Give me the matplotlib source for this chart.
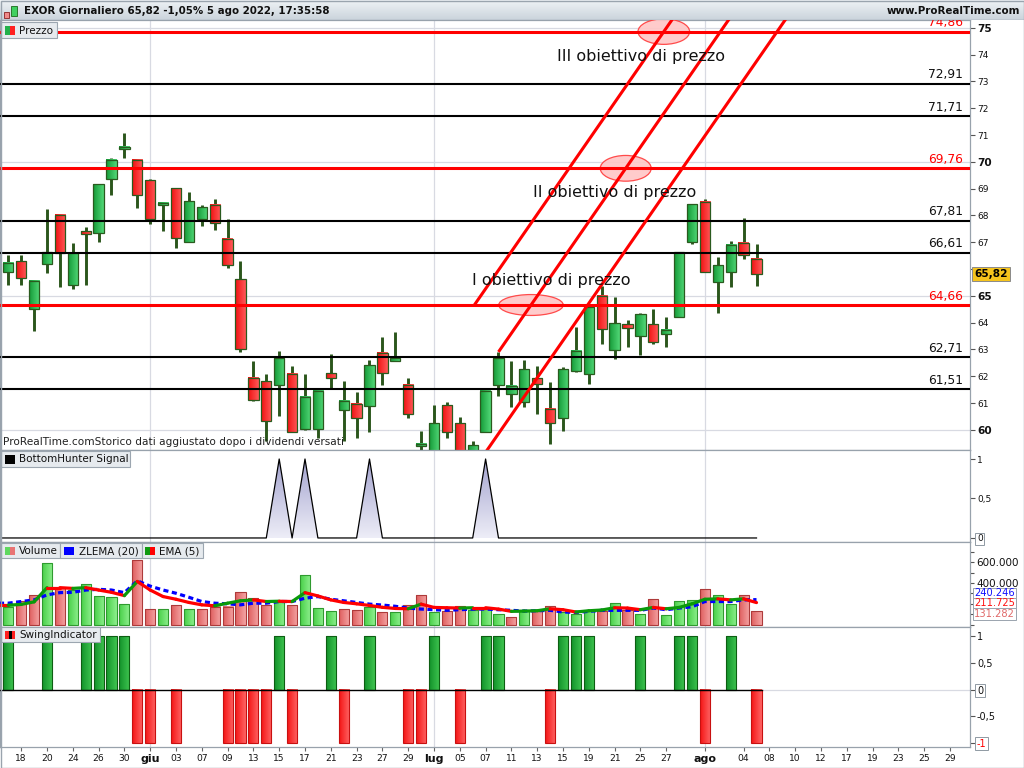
import numpy as np
import matplotlib
matplotlib.use("Agg")
import matplotlib.pyplot as plt
from matplotlib.patches import Rectangle, Ellipse, Polygon
from matplotlib.colors import LinearSegmentedColormap

plt.rcParams['font.family'] = ['DejaVu Sans']

# ---------------- data: EXOR daily, 17 May - 5 Aug 2022 ----------------
opens = [65.89, 66.30, 64.50, 66.19, 68.03, 65.40, 67.43, 67.36, 69.35, 70.48,
         70.08, 69.32, 68.38, 69.01, 67.02, 67.88, 68.41, 67.14, 65.64, 61.95,
         61.83, 61.68, 62.09, 60.03, 60.03, 62.11, 60.74, 60.97, 60.89, 62.88,
         62.59, 61.68, 59.40, 59.00, 60.93, 60.25, 59.05, 59.94, 61.68, 61.33,
         61.05, 61.92, 60.78, 60.44, 62.18, 62.07, 64.99, 62.97, 63.94, 63.50,
         63.94, 63.56, 64.22, 67.02, 68.52, 65.52, 65.89, 66.99, 66.38]
highs = [66.54, 66.54, 65.56, 68.23, 68.03, 66.98, 67.58, 69.17, 70.15, 71.09,
         70.11, 69.36, 68.46, 69.01, 68.87, 68.41, 68.61, 67.86, 66.32, 62.56,
         62.07, 62.93, 62.37, 62.07, 61.47, 62.82, 61.84, 61.40, 62.59, 63.47,
         63.64, 61.94, 59.96, 60.93, 61.05, 60.49, 59.59, 61.53, 62.91, 62.56,
         62.59, 62.37, 61.78, 62.34, 63.85, 64.65, 65.38, 64.95, 64.10, 64.35,
         64.51, 64.22, 66.63, 68.42, 68.61, 66.45, 67.03, 67.92, 66.92]
lows = [65.39, 65.41, 63.70, 65.84, 65.35, 65.27, 65.39, 67.00, 68.77, 70.16,
        68.28, 67.68, 67.42, 66.78, 67.02, 67.61, 67.45, 66.03, 62.91, 61.06,
        59.59, 60.50, 59.91, 59.99, 59.71, 61.55, 59.59, 59.71, 59.94, 61.67,
        62.59, 60.46, 58.90, 58.80, 59.71, 58.70, 58.80, 59.94, 61.25, 60.84,
        60.84, 60.59, 59.49, 59.96, 62.15, 61.72, 63.22, 62.66, 63.09, 62.81,
        63.22, 63.09, 64.22, 66.92, 65.89, 64.35, 65.35, 66.39, 65.38]
closes = [66.23, 65.67, 65.56, 66.63, 66.61, 66.61, 67.32, 69.17, 70.08, 70.55,
          68.75, 67.88, 68.46, 67.17, 68.53, 68.31, 67.73, 66.15, 63.03, 61.12,
          60.34, 62.70, 59.91, 61.24, 61.47, 61.94, 61.09, 60.44, 62.41, 62.13,
          62.66, 60.59, 59.47, 60.25, 59.94, 59.00, 59.42, 61.47, 62.70, 61.64,
          62.28, 61.72, 60.25, 62.26, 62.93, 64.60, 63.75, 63.97, 63.82, 64.32,
          63.28, 63.71, 66.63, 68.42, 65.89, 66.15, 66.91, 66.54, 65.82]

volumes_k = [174, 226, 283, 597, 350, 333, 390, 276, 264, 197,
             626, 152, 152, 187, 152, 152, 174, 174, 311, 254,
             190, 222, 190, 476, 159, 133, 152, 143, 165, 121,
             121, 187, 283, 124, 133, 178, 143, 149, 105, 73,
             127, 127, 178, 117, 105, 127, 127, 207, 143, 105,
             245, 95, 226, 235, 340, 283, 200, 283, 131.282]
ema5_k = [187, 194, 219, 356, 356, 349, 356, 333, 311, 279,
          416, 333, 270, 244, 213, 190, 181, 206, 229, 238,
          222, 225, 222, 308, 276, 238, 213, 200, 184, 166,
          155, 152, 197, 165, 162, 159, 162, 162, 149, 127,
          130, 133, 152, 143, 121, 133, 140, 162, 159, 143,
          165, 152, 165, 200, 244, 248, 238, 248, 211.725]
zlema20_k = [206, 222, 238, 286, 308, 311, 333, 340, 333, 308,
             422, 371, 333, 302, 263, 222, 206, 200, 190, 206,
             206, 222, 222, 254, 270, 244, 229, 213, 197, 188,
             176, 159, 149, 143, 137, 143, 149, 149, 143, 137,
             130, 133, 137, 121, 117, 127, 137, 137, 137, 137,
             159, 143, 159, 171, 222, 222, 222, 238, 240.246]

swing = [1, 0, 0, 1, 0, 0, 1, 1, 1, 1,
         -1, -1, 0, -1, 0, 0, 0, -1, -1, -1,
         -1, 1, -1, 0, 0, 1, -1, 0, 1, 0,
         0, -1, -1, 1, 0, -1, 0, 1, 1, 0,
         0, 0, -1, 1, 1, 1, 0, 0, 0, 1,
         0, 0, 1, 1, -1, 0, 1, 0, -1]
bottom_hunter = [0, 0, 0, 0, 0, 0, 0, 0, 0, 0,
                 0, 0, 0, 0, 0, 0, 0, 0, 0, 0,
                 0, 1, 0, 1, 0, 0, 0, 0, 1, 0,
                 0, 0, 0, 0, 0, 0, 0, 1, 0, 0,
                 0, 0, 0, 0, 0, 0, 0, 0, 0, 0,
                 0, 0, 0, 0, 0, 0, 0, 0, 0]

target_levels = [74.86, 69.76, 64.66]
support_levels = [72.91, 71.71, 67.81, 66.61, 62.71, 61.51]
target_names = ["I obiettivo di prezzo", "II obiettivo di prezzo", "III obiettivo di prezzo"]

# upward channel: base line from the 8 Jul high, parallel lines above and below
channel_bar = 38
channel_price = highs[38]
channel_slope = 0.6946
channel_width = 3.05

date_tick_pos = [1, 3, 5, 7, 9, 11, 13, 15, 17, 19, 21, 23, 25, 27, 29, 31, 33, 35,
                 37, 39, 41, 43, 45, 47, 49, 51, 54, 57, 59, 61, 63, 65, 67, 69, 71, 73]
date_tick_labels = ["18", "20", "24", "26", "30", "giu", "03", "07", "09", "13", "15",
                    "17", "21", "23", "27", "29", "lug", "05", "07", "11", "13", "15",
                    "19", "21", "25", "27", "ago", "04", "08", "10", "12", "17", "19",
                    "23", "25", "29"]
month_names = ["giu", "lug", "ago"]

last_price = closes[-1]

# ---------------- figure scaffolding ----------------
W, H = 1024, 768
fig = plt.figure(figsize=(W / 100, H / 100), dpi=100)
fig.patch.set_facecolor('white')

X_LO, X_HI = -0.643, 74.55
PANEL_R = 970
GRID = '#d8dae2'
SPINE = '#98a2ac'
month_pos = [p for p, l in zip(date_tick_pos, date_tick_labels) if l in month_names]

GRAD = np.linspace(0, 1, 32)[None, :]


def cmap(c0, c1):
    return LinearSegmentedColormap.from_list('', [c0, c1])


CM_UP = cmap('#149a38', '#52d877')
CM_DN = cmap('#f01010', '#ff5a5a')
CM_VUP = cmap('#48cf48', '#8ef08e')
CM_VDN = cmap('#df5e5e', '#f4a4a4')
CM_SUP = cmap('#12922a', '#3fc450')
CM_SDN = cmap('#f41414', '#ff6464')


def gradient_box(ax, x0, x1, y0, y1, cm, edge, lw, z):
    ax.imshow(GRAD, extent=(x0, x1, y0, y1), cmap=cm, aspect='auto',
              interpolation='bilinear', zorder=z)
    ax.add_patch(Rectangle((x0, y0), x1 - x0, y1 - y0, fill=False, ec=edge,
                           lw=lw, zorder=z + 0.01))


def panel(top, bottom, ylim):
    ax = fig.add_axes([0, 1 - bottom / H, PANEL_R / W, (bottom - top) / H])
    ax.set_xlim(X_LO, X_HI)
    ax.set_ylim(*ylim)
    ax.set_autoscale_on(False)
    for s in ax.spines.values():
        s.set_color(SPINE)
        s.set_linewidth(0.9)
    ax.yaxis.tick_right()
    ax.tick_params(axis='y', direction='out', length=3.5, width=0.8,
                   colors='#555555', labelcolor='#111111', pad=1.5, labelsize=6.5)
    ax.tick_params(axis='x', bottom=False, labelbottom=False)
    for m in month_pos:
        ax.axvline(m, color=GRID, lw=0.9, zorder=0.5)
    return ax


def px_rect(x0, y0, x1, y1, z=12, **kw):
    r = Rectangle((x0 / W, 1 - y1 / H), (x1 - x0) / W, (y1 - y0) / H,
                  transform=fig.transFigure, zorder=z, **kw)
    fig.add_artist(r)
    return r


def px_text(x, y, s, **kw):
    kw.setdefault('zorder', 13)
    return fig.text(x / W, 1 - y / H, s, **kw)


def legend(x0, x1, y0, y1, label, tx, icons):
    px_rect(x0, y0, x1, y1, fc='#e6eaee', ec='#9ca6b0', lw=0.8)
    for ix0, ix1, c in icons:
        px_rect(ix0, y0 + 4, ix1, y1 - 3.5, z=12.5, fc=c, ec='none')
    px_text(tx, (y0 + y1) / 2 + 0.5, label, va='center', ha='left',
            fontsize=7.5, color='#111111')


idx = np.arange(len(closes))

# ---------------- price panel ----------------
ax_p = panel(20, 450, (59.25, 75.294))
price_ticks = list(range(60, 76))
ax_p.set_yticks(price_ticks)
# the 66 label sits under the last-price tag
ax_p.set_yticklabels(['' if v == 66 else str(v) for v in price_ticks])
for t, v in zip(ax_p.get_yticklabels(), price_ticks):
    if v % 5 == 0:
        t.set_fontweight('bold')
        t.set_fontsize(7.6)
for v in (60, 65, 70, 75):
    ax_p.axhline(v, color=GRID, lw=0.9, zorder=0.6)

WICK = '#2b561c'
for i, (o, h, l, c) in enumerate(zip(opens, highs, lows, closes)):
    ax_p.vlines(i, l, h, color=WICK, lw=2.1, zorder=3)
    lo, hi = min(o, c), max(o, c)
    if hi - lo < 0.08:
        mid = (lo + hi) / 2
        lo, hi = mid - 0.04, mid + 0.04
    gradient_box(ax_p, i - 0.4, i + 0.4, lo, hi, CM_UP if c >= o else CM_DN,
                 '#2a5a1e', 0.9, 4)

for lv in support_levels:
    ax_p.axhline(lv, color='black', lw=1.5, zorder=6)
for lv in target_levels:
    ax_p.axhline(lv, color='#ff0000', lw=2.2, zorder=6)
for lv in support_levels + target_levels:
    col = '#ff0000' if lv in target_levels else '#111111'
    ax_p.annotate(f"{lv:.2f}".replace('.', ','), xy=(1, lv),
                  xycoords=('axes fraction', 'data'), xytext=(-7, 2.5),
                  textcoords='offset pixels', ha='right', va='bottom',
                  fontsize=8.8, color=col, zorder=7)

# channel lines
x_end = 72.0
for off, x_start in ((channel_width, None), (0.0, channel_bar), (-channel_width, 36.0)):
    base = channel_price + off
    if x_start is None:
        x_start = channel_bar + (target_levels[2] - base) / channel_slope
    xs = np.array([x_start, x_end])
    ax_p.plot(xs, base + channel_slope * (xs - channel_bar), color='#ff0000',
              lw=2.2, zorder=6.5, solid_capstyle='butt')


def channel_cross(off, level):
    return channel_bar + (level - (channel_price + off)) / channel_slope


ellipses = [(channel_cross(0.0, target_levels[2]), target_levels[2], 5.0, 0.78),
            (channel_cross(0.0, target_levels[1]), target_levels[1], 3.95, 0.96),
            (channel_cross(channel_width, target_levels[0]), target_levels[0], 4.0, 0.95)]
for cx, cy, w, h in ellipses:
    ax_p.add_patch(Ellipse((cx, cy), w, h, fc='#ffc6c6', ec='#ff3a3a', lw=0.9,
                           alpha=0.9, zorder=5))

label_pos = [(35.92, 65.56), (40.70, 68.86), (42.51, 73.94)]
for (lx, ly), name in zip(label_pos, target_names):
    ax_p.text(lx, ly, name, ha='left', va='center', fontsize=11.5,
              color='#111111', zorder=7)

px_text(3, 442, "ProRealTime.comStorico dati aggiustato dopo i dividendi versati",
        va='center', ha='left', fontsize=7.6, color='#222222')

# ---------------- BottomHunter panel ----------------
ax_b = panel(450, 542, (-0.051, 1.114))
ax_b.set_yticks([0, 0.5, 1])
ax_b.set_yticklabels(['0', '0,5', '1'])
bx = np.r_[-1, idx]
by = np.r_[0, bottom_hunter]
poly = Polygon(np.c_[bx, by], closed=True, fc='none', ec='none')
ax_b.add_patch(poly)
im = ax_b.imshow(np.linspace(0, 1, 64)[:, None], extent=(-1, 60, 0, 1),
                 cmap=cmap('#a4a4cf', '#ededf7'), aspect='auto', zorder=1)
im.set_clip_path(poly)
ax_b.plot(bx, by, color='black', lw=0.9, zorder=2)

# ---------------- volume panel ----------------
ax_v = panel(542, 627, (-24, 797))
ax_v.set_yticks(range(0, 800, 100))
ax_v.set_yticklabels(['' if v not in (400, 600) else f"{v}.000" for v in range(0, 800, 100)])
ax_v.tick_params(axis='y', labelsize=7.5, length=3)
prev = None
for i, (v, c) in enumerate(zip(volumes_k, closes)):
    up = prev is None or c >= prev
    gradient_box(ax_v, i - 0.39, i + 0.39, 0, v, CM_VUP if up else CM_VDN,
                 '#2f9a2f' if up else '#ad3a3a', 0.8, 2)
    prev = c
vx = np.r_[-1, idx]
ax_v.plot(vx, np.r_[zlema20_k[0], zlema20_k], color='#0000ff', lw=2.3,
          ls=(0, (1.6, 1.1)), zorder=4)
ema_x = np.r_[-1, idx]
ema_y = np.r_[ema5_k[0], ema5_k]
for j in range(len(ema_x) - 1):
    col = '#0a9a0a' if ema_y[j + 1] > ema_y[j] else '#ff0000'
    ax_v.plot(ema_x[j:j + 2], ema_y[j:j + 2], color=col, lw=2.3, zorder=5,
              solid_capstyle='round')

# ---------------- swing panel ----------------
ax_s = panel(627, 746.7, (-1.079, 1.179))
ax_s.set_yticks([-1, -0.5, 0, 0.5, 1])
ax_s.set_yticklabels(['-1', '-0,5', '0', '0,5', '1'])
ax_s.tick_params(axis='y', labelsize=7)
last = len(swing) - 1
ax_s.plot([X_LO, last + 0.4], [0, 0], color='black', lw=1.0, zorder=3)
ax_s.plot([last + 0.4, X_HI], [0, 0], color=GRID, lw=0.9, zorder=0.6)
for i, s in enumerate(swing):
    if s == 0:
        continue
    gradient_box(ax_s, i - 0.39, i + 0.39, min(0, s), max(0, s),
                 CM_SUP if s > 0 else CM_SDN,
                 '#0d5e12' if s > 0 else '#c81010', 0.8, 2)

ax_s.set_xticks(date_tick_pos)
ax_s.set_xticklabels(date_tick_labels)
ax_s.tick_params(axis='x', bottom=True, labelbottom=True, length=3, width=0.8,
                 colors='#666666', labelcolor='#111111', labelsize=6.6, pad=2)
for t in ax_s.get_xticklabels():
    if t.get_text() in month_names:
        t.set_fontweight('bold')
        t.set_fontsize(8)

# boxed labels on the right axes
BOX = dict(fc='white', ec='#8f99a3', lw=0.7, boxstyle='square,pad=0.18')
for ax in (ax_b, ax_s):
    for t in ax.get_yticklabels():
        if t.get_text() == '0':
            t.set_bbox(BOX)
for t in ax_s.get_yticklabels():
    if t.get_text() == '-1':
        t.set_bbox(BOX)
        t.set_color('#ff0000')

# value tags
px_text(974, 274.2, f"{last_price:.2f}".replace('.', ','), va='center', ha='left',
        fontsize=7.6, fontweight='bold', color='black', zorder=20,
        bbox=dict(fc='#f6c41c', ec='#8a8a8a', lw=0.7, boxstyle='square,pad=0.2'))
for y, val, col in ((593.5, zlema20_k[-1], '#1010ff'), (603.5, ema5_k[-1], '#ff1010'),
                    (613.8, volumes_k[-1], '#e06868')):
    s = f"{val:.3f}"
    px_text(974, y, s, va='center', ha='left', fontsize=7.1, color=col, zorder=20,
            bbox=dict(fc='white', ec='#9aa4ae', lw=0.7, boxstyle='square,pad=0.1'))

# ---------------- legends ----------------
legend(0.5, 57, 22, 38, "Prezzo", 19, [(5, 10, '#22b04a'), (10, 15, '#ff2020')])
legend(0.5, 130, 451, 467, "BottomHunter Signal", 19, [(5, 14.5, '#000000')])
legend(0.5, 59.5, 543, 558, "Volume", 19, [(5, 10, '#5fd85f'), (10, 15, '#e87474')])
legend(59.5, 141.5, 543, 558, "ZLEMA (20)", 79, [(64, 74, '#0000ff')])
legend(141.5, 203, 543, 558, "EMA (5)", 159, [(145, 150, '#119a11'), (150, 155, '#ff0000')])
legend(0.5, 100, 627, 642, "SwingIndicator", 19,
       [(5, 8.5, '#ff2020'), (8.5, 11.5, '#000000'), (11.5, 15, '#ff2020')])

# ---------------- title bar ----------------
ax_t = fig.add_axes([0, 1 - 20 / H, 1, 20 / H], zorder=5)
ax_t.imshow(np.linspace(0, 1, 20)[:, None], extent=(0, 1, 0, 1),
            cmap=cmap('#eef2f5', '#cbd4dc'), aspect='auto')
ax_t.set_xlim(0, 1)
ax_t.set_ylim(0, 1)
ax_t.axis('off')
ax_t.axhline(0.02, color='#8e99a4', lw=1.0)
px_rect(3.5, 11.5, 9, 18, z=14, fc='#f08a8a', ec='#8a2020', lw=0.6)
px_rect(11, 5.5, 16.5, 16, z=14, fc='#40d060', ec='#1a6a1a', lw=0.6)
px_text(24, 11, "EXOR Giornaliero 65,82 -1,05% 5 ago 2022, 17:35:58",
        va='center', ha='left', fontsize=7.4, fontweight='bold', color='#111111', zorder=14)
px_text(1020, 11, "www.ProRealTime.com", va='center', ha='right', fontsize=7.4,
        fontweight='bold', color='#111111', zorder=14)

# outer frame
px_rect(0.5, 0.5, 1023.5, 767.5, z=30, fc='none', ec='#9aa4ae', lw=1.0)

fig.savefig('out.png', dpi=100, facecolor='white')
